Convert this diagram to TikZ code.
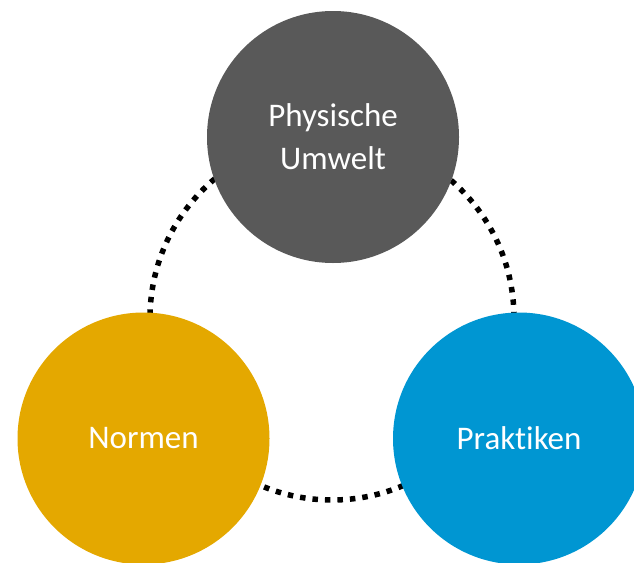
\documentclass[tikz,border=0pt]{standalone}
\usepackage{fontspec}
\setmainfont[Ligatures=NoCommon]{Carlito}
\usepackage{tikz}
\definecolor{grau}{RGB}{89,89,89}
\definecolor{gelb}{RGB}{228,168,0}
\definecolor{blau}{RGB}{0,150,210}
\tikzset{kreis/.style={circle, minimum size=252pt, inner sep=0pt, text=white, align=center, font=\fontsize{33}{43}\selectfont}}

\begin{document}
\begin{tikzpicture}[x=1pt, y=-1pt]
\useasboundingbox (0,0) rectangle (634,562);
\coordinate (mitte) at (332,318);
\draw[line width=5.5pt, dash pattern=on 5.5pt off 7pt] (mitte) circle(182);
\foreach \name/\x/\y/\col/\txt in {phys/333/137/grau/{Physische\\Umwelt}, norm/143.5/438.5/gelb/Normen, prak/519/438.5/blau/Praktiken}{
\node[kreis, fill=\col] (\name) at (\x,\y) {\txt};
}
\end{tikzpicture}
\end{document}
